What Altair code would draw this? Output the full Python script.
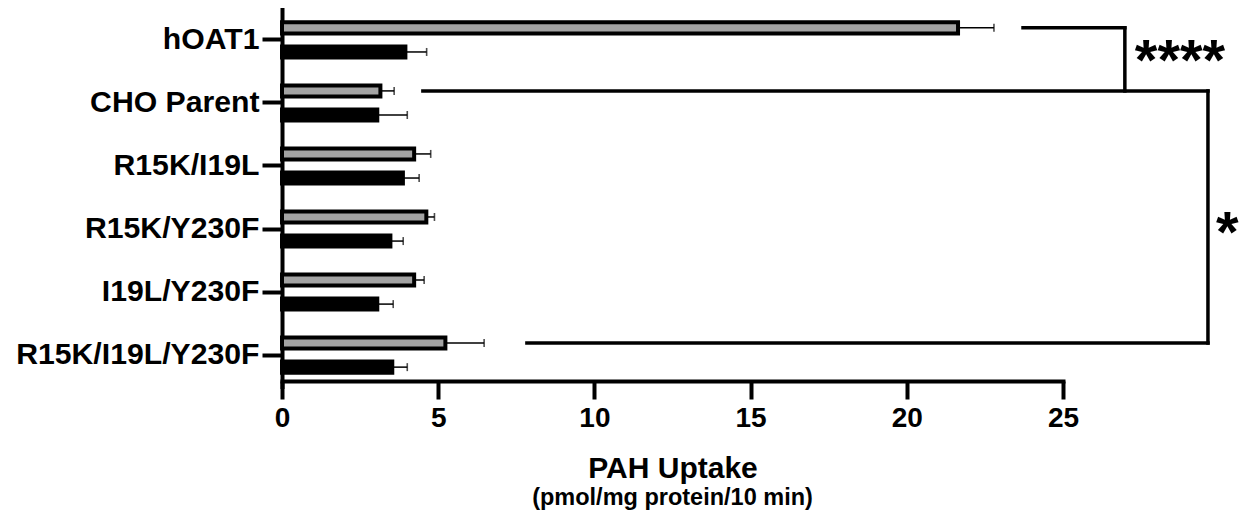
import altair as alt
import pandas as pd

# ---------------- data ----------------
categories = ["hOAT1", "CHO Parent", "R15K/I19L", "R15K/Y230F", "I19L/Y230F", "R15K/I19L/Y230F"]
series = ["Group 1", "Group 2"]
gray_mean = [21.64, 3.15, 4.23, 4.62, 4.23, 5.23]
gray_err = [1.15, 0.44, 0.53, 0.26, 0.32, 1.24]
black_mean = [3.95, 3.05, 3.87, 3.47, 3.05, 3.53]
black_err = [0.68, 0.96, 0.52, 0.41, 0.51, 0.48]
x_ticks = [0, 5, 10, 15, 20, 25]
x_title = "PAH Uptake"
x_subtitle = "(pmol/mg protein/10 min)"

# significance brackets
br_h_level = ["hOAT1", "CHO Parent", "R15K/I19L/Y230F"]
br_h_start = [23.72, 4.51, 7.84]
br_h_end = [26.98, 29.64, 29.64]
br_v_x = [26.98, 29.64]
br_v_from = ["hOAT1", "CHO Parent"]
br_v_to = ["CHO Parent", "R15K/I19L/Y230F"]
star_big = ["****"]
star_big_x = [27.3]
star_big_cat = ["CHO Parent"]
star_small = ["*"]
star_small_x = [29.9]
star_small_cat = ["R15K/Y230F"]

# ---------------- tables ----------------
rows = []
for i, c in enumerate(categories):
    rows.append(dict(category=c, series=series[0], value=gray_mean[i], upper=gray_mean[i] + gray_err[i]))
    rows.append(dict(category=c, series=series[1], value=black_mean[i], upper=black_mean[i] + black_err[i]))
df = pd.DataFrame(rows)

hdf = pd.DataFrame(dict(category=br_h_level, value=br_h_start, value2=br_h_end))
vdf = pd.DataFrame(dict(category=br_v_from, category2=br_v_to, value=br_v_x))
s1 = pd.DataFrame(dict(category=star_big_cat, value=star_big_x, label=star_big))
s2 = pd.DataFrame(dict(category=star_small_cat, value=star_small_x, label=star_small))

FONT = "Liberation Sans"

# ---------------- scales / axes ----------------
band_range = [-2.6, 375.6]
pad_in, pad_out = 0.542, 0.579
bw = (band_range[1] - band_range[0]) / len(categories)
step = bw / (2 - pad_in + 2 * pad_out)
gray_center = (bw - step * (2 - pad_in)) / 2 + step * (1 - pad_in) / 2
gray_frac = gray_center / bw

xscale = alt.Scale(domain=[0, 25], nice=False, zero=True)
yscale = alt.Scale(domain=categories, range=band_range, paddingInner=0, paddingOuter=0)

xaxis = alt.Axis(
    values=x_ticks, title=x_title,
    grid=False, tickSize=18, tickWidth=4, domainWidth=4, domainCap="square",
    domainColor="black", tickColor="black", labelFontSize=28, labelPadding=5,
    labelFont=FONT, labelFontWeight="bold", labelColor="black", labelFlush=False,
    titleFont=FONT, titleFontWeight="bold", titleFontSize=30, titleColor="black",
    titlePadding=21,
)
yaxis = alt.Axis(
    title=None, grid=False, tickSize=20, tickWidth=4, domainWidth=4, domainCap="square",
    domainColor="black", tickColor="black", labelFontSize=30.2, labelPadding=3,
    labelFont=FONT, labelFontWeight="bold", labelColor="black", labelLimit=400,
)


def X(f):
    return alt.X(f"{f}:Q", scale=xscale, axis=xaxis)


def Y(f, bp=None):
    if bp is None:
        return alt.Y(f"{f}:N", scale=yscale, axis=yaxis, sort=categories)
    return alt.Y(f"{f}:N", scale=yscale, axis=yaxis, sort=categories, bandPosition=bp)


yoff = alt.YOffset("series:N", sort=series,
                   scale=alt.Scale(domain=series, paddingInner=pad_in, paddingOuter=pad_out))

bars = alt.Chart(df).mark_bar(stroke="black", strokeWidth=4).encode(
    x=X("value"),
    y=Y("category"),
    yOffset=yoff,
    fill=alt.Fill("series:N", scale=alt.Scale(domain=series, range=["#a3a3a3", "#000000"]), legend=None),
)

err = alt.Chart(df).mark_rule(color="black", strokeWidth=1.5).encode(
    x=X("value"), x2="upper:Q", y=Y("category"), yOffset=yoff,
)
caps = alt.Chart(df).mark_tick(color="black", thickness=1.6, size=8, orient="vertical").encode(
    x=X("upper"), y=Y("category"), yOffset=yoff,
)

hrules = alt.Chart(hdf).mark_rule(color="black", strokeWidth=3.5, strokeCap="square").encode(
    x=X("value"), x2="value2:Q", y=Y("category", gray_frac),
)
vrules = alt.Chart(vdf).mark_rule(color="black", strokeWidth=3.5, strokeCap="square").encode(
    x=X("value"), y=Y("category", gray_frac),
    y2=alt.Y2("category2:N", bandPosition=gray_frac),
)

t1 = alt.Chart(s1).mark_text(font=FONT, fontWeight="bold", fontSize=58, align="left",
                             baseline="alphabetic", color="black").encode(
    x=X("value"), y=Y("category", 0.14), text="label:N",
)
t2 = alt.Chart(s2).mark_text(font=FONT, fontWeight="bold", fontSize=58, align="left",
                             baseline="alphabetic", color="black").encode(
    x=X("value"), y=Y("category", 0.87), text="label:N",
)

chart = alt.layer(bars, err, caps, hrules, vrules, t1, t2).properties(
    width=781, height=370,
    autosize=alt.AutoSizeParams(type="none"),
    padding={"left": 274, "top": 3, "right": 178, "bottom": 131},
    title=alt.TitleParams(text=x_subtitle, orient="bottom", anchor="middle", frame="group",
                          font=FONT, fontWeight="bold", fontSize=23.5, color="black", offset=3),
).configure(background="white").configure_view(stroke=None)

chart.save("out.html", embed_options={"renderer": "svg", "actions": False})
